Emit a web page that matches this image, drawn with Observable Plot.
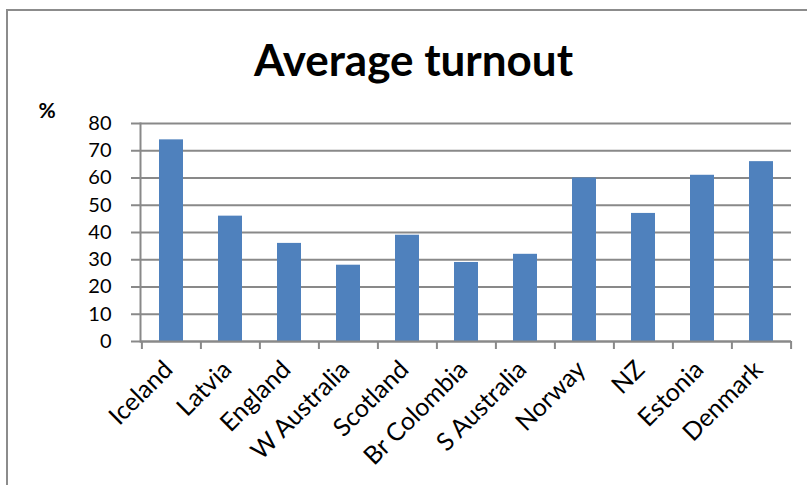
<!DOCTYPE html>
<html>
<head>
<meta charset="utf-8">
<script src="https://cdn.jsdelivr.net/npm/d3@7"></script>
<script src="https://cdn.jsdelivr.net/npm/@observablehq/plot@0.6"></script>
<style>
  body { margin: 0; background: #fff; }
  #chart { position: relative; width: 807px; height: 485px; overflow: hidden; font-family: Lato, sans-serif; }
  #chart svg { position: absolute; left: 0; top: 0; }
  #border { position: absolute; left: 6px; top: 9px; width: 900px; height: 600px;
            border-left: 2px solid #8c8c8c; border-top: 2px solid #8c8c8c; pointer-events: none; }
</style>
</head>
<body>
<div id="chart"><div id="border"></div></div>
<script>
// Average turnout by region (%)
const regions = ["Iceland", "Latvia", "England", "W Australia", "Scotland", "Br Colombia",
                 "S Australia", "Norway", "NZ", "Estonia", "Denmark"];
const turnout = [74, 46, 36, 28, 39, 29, 32, 60, 47, 61, 66];
const yTicks = [0, 10, 20, 30, 40, 50, 60, 70, 80];
const title = "Average turnout";
const unit = "%";

const data = regions.map((region, i) => ({region, turnout: turnout[i]}));

const W = 807, H = 485;
const mL = 140, mR = 16, mT = 123, mB = 144;
const step = (W - mL - mR) / regions.length; // one category slot
const grey = "#898989";
const frameCenter = mL + (W - mL - mR) / 2;

const chart = Plot.plot({
  width: W,
  height: H,
  marginLeft: mL,
  marginRight: mR,
  marginTop: mT,
  marginBottom: mB,
  style: {background: "transparent", fontFamily: "Lato, sans-serif", overflow: "visible", color: "#000"},
  x: {domain: regions, paddingInner: 0.6, paddingOuter: 0.3, label: null},
  y: {domain: [0, 80], label: null},
  marks: [
    // horizontal gridlines
    Plot.gridY(yTicks, {stroke: grey, strokeOpacity: 1, strokeWidth: 2}),
    // bars
    Plot.barY(data, {x: "region", y: "turnout", fill: "#4F81BD"}),
    // axis lines
    Plot.ruleY([0], {stroke: grey, strokeWidth: 2}),
    Plot.frame({anchor: "left", stroke: grey, strokeWidth: 2}),
    // y axis ticks and labels
    Plot.axisY(yTicks, {tickSize: 9, tickPadding: 20, fontSize: 20, stroke: grey, strokeWidth: 2, fill: "#000", label: null}),
    // category boundary ticks on the x axis
    Plot.axisX(regions, {tickSize: 8, tickFormat: () => "", dx: -step / 2, stroke: grey, strokeWidth: 2, label: null}),
    Plot.axisX([regions[regions.length - 1]], {tickSize: 8, tickFormat: () => "", dx: step / 2, stroke: grey, strokeWidth: 2, label: null}),
    // rotated category labels
    Plot.axisX(regions, {tickSize: 0, tickRotate: -45, tickPadding: 24, dx: -3, fontSize: 25, fill: "#000", label: null}),
    // title and unit label
    Plot.text([title], {text: d => d, frameAnchor: "top", dx: 413 - frameCenter, dy: 75 - mT,
                        lineAnchor: "bottom", fontSize: 44, fontWeight: "bold", fill: "#000"}),
    Plot.text([unit], {text: d => d, frameAnchor: "top-left", textAnchor: "start", dx: 38 - mL, dy: 117 - mT,
                       lineAnchor: "bottom", fontSize: 21, fontWeight: "bold", fill: "#000"})
  ]
});

document.getElementById("chart").prepend(chart);
</script>
</body>
</html>
